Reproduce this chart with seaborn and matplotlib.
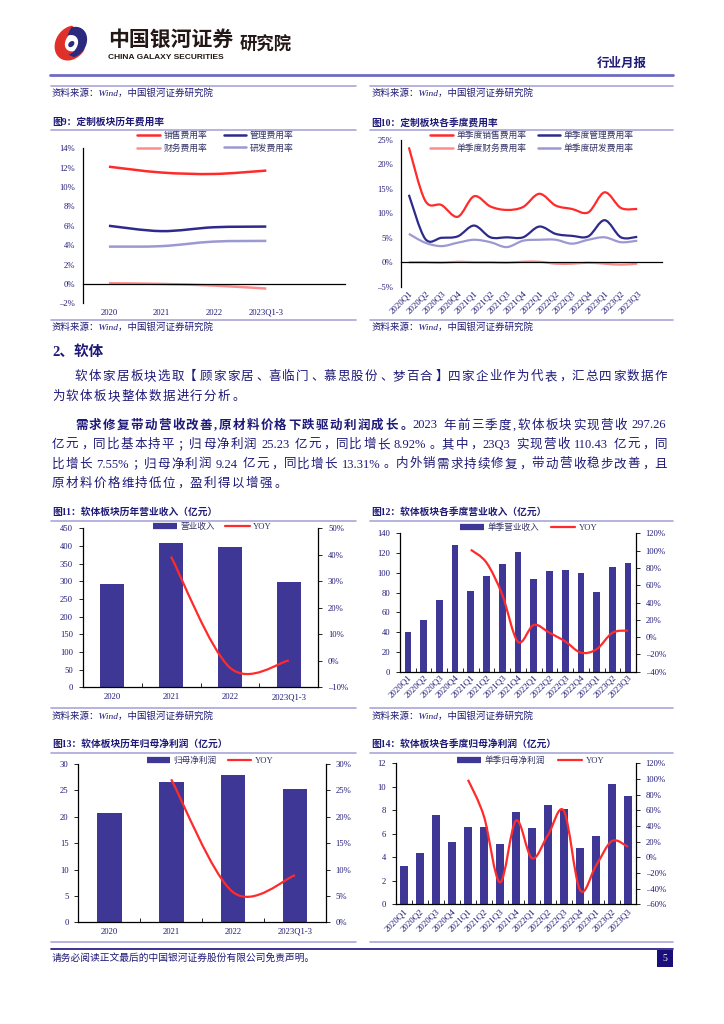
import re
import numpy as np
import matplotlib
matplotlib.use('Agg')
import matplotlib.pyplot as plt
import seaborn as sns
from matplotlib.path import Path
from matplotlib.patches import PathPatch, Rectangle, Polygon
from matplotlib.lines import Line2D
from matplotlib.ticker import FuncFormatter, MultipleLocator

sns.set_theme(style='white')
plt.rcParams['font.family'] = ['Liberation Serif', 'Noto Sans CJK SC']
plt.rcParams['axes.unicode_minus'] = False

NAVY = '#1F1A78'
BAR = '#3F3796'
RED = '#FF2B2B'
MGMT = '#2E2A8C'
PINK = '#FF8C8C'
LAV = '#9C98D2'
LIGHT = '#A9A6DA'
nan = np.nan

years = ['2020', '2021', '2022', '2023Q1-3']
quarters = ['2020Q1', '2020Q2', '2020Q3', '2020Q4', '2021Q1', '2021Q2', '2021Q3', '2021Q4',
            '2022Q1', '2022Q2', '2022Q3', '2022Q4', '2023Q1', '2023Q2', '2023Q3']

# 图9 定制板块历年费用率 (%)
sale_rate_y = [12.1, 11.5, 11.35, 11.7]
mgmt_rate_y = [6.0, 5.45, 5.85, 5.92]
fin_rate_y = [0.07, 0.0, -0.17, -0.48]
rd_rate_y = [3.85, 3.9, 4.37, 4.44]

# 图10 定制板块各季度费用率 (%)
q_sale_rate = [23.5, 12.6, 11.7, 9.3, 13.5, 11.4, 10.7, 11.3, 14.0, 11.6, 10.9, 10.2, 14.3, 11.1, 10.9]
q_mgmt_rate = [13.8, 4.8, 5.0, 5.3, 7.5, 5.1, 5.1, 5.1, 7.3, 5.8, 5.4, 5.3, 8.6, 5.1, 5.2]
q_fin_rate = [0.0, 0.0, -0.1, 0.1, 0.0, 0.0, -0.1, 0.1, 0.1, -0.3, -0.3, -0.1, -0.3, -0.5, -0.3]
q_rd_rate = [5.8, 4.0, 3.3, 4.0, 4.6, 4.1, 3.1, 4.4, 4.6, 4.6, 3.8, 4.6, 5.1, 4.1, 4.4]

# 图11 软体板块历年营业收入 (亿元, %)
rev_year = [292.5, 407.5, 397.0, 297.26]
rev_year_yoy = [nan, 39.3, -2.6, 0.1]

# 图12 软体板块各季度营业收入
q_rev = [40.5, 52.0, 73.0, 128.0, 82.0, 96.5, 108.6, 121.0, 93.5, 101.5, 102.6, 99.5, 80.6, 106.0, 110.43]
q_rev_yoy = [nan, nan, nan, nan, 101.0, 86.0, 49.0, -5.5, 14.0, 5.0, -5.0, -18.0, -14.0, 5.0, 7.55]

# 图13 软体板块历年归母净利润
np_year = [20.8, 26.5, 28.0, 25.23]
np_year_yoy = [nan, 27.1, 5.7, 8.92]

# 图14 软体板块各季度归母净利润
q_np = [3.26, 4.34, 7.57, 5.33, 6.6, 6.6, 5.13, 7.86, 6.47, 8.45, 8.11, 4.79, 5.8, 10.2, 9.24]
q_np_yoy = [nan, nan, nan, nan, 99.0, 52.0, -32.0, 47.0, -1.3, 28.5, 59.0, -41.7, -10.6, 20.8, 13.31]

W, H = 724, 1024
fig = plt.figure(figsize=(W / 100, H / 100), dpi=100)
fig.patch.set_facecolor('white')


def fx(x):
    return x / W


def fy(y):
    return 1 - y / H


def add_ax(l, t, r, b):
    return fig.add_axes([fx(l), fy(b), (r - l) / W, (b - t) / H])


def hline(x0, x1, y, color, lw):
    fig.add_artist(Line2D([fx(x0), fx(x1)], [fy(y), fy(y)], transform=fig.transFigure, color=color, lw=lw))


def ftext(x, y, s, **kw):
    kw.setdefault('color', NAVY)
    kw.setdefault('va', 'center')
    return fig.text(fx(x), fy(y), s, **kw)


def pct(v, p):
    return ('–%d%%' % -v) if v < 0 else '%d%%' % v


def smooth(ax, xs, ys, color, lw):
    # excel style smoothed line through the points
    p = np.array([(x, y) for x, y in zip(xs, ys) if not np.isnan(y)], float)
    n = len(p)
    verts = [p[0]]
    codes = [Path.MOVETO]
    for i in range(n - 1):
        a, b, c, d = p[max(i - 1, 0)], p[i], p[i + 1], p[min(i + 2, n - 1)]
        verts += [b + (c - a) / 6, c - (d - b) / 6, c]
        codes += [Path.CURVE4] * 3
    ax.add_patch(PathPatch(Path(verts, codes), fill=False, edgecolor=color, lw=lw,
                           capstyle='butt', joinstyle='round'))


def style_y(ax, side='left', pad=3):
    for s in ['top', 'right', 'left', 'bottom']:
        ax.spines[s].set_visible(False)
    ax.spines[side].set_visible(True)
    ax.spines[side].set_color('black')
    ax.spines[side].set_linewidth(0.9)
    ax.tick_params(axis='y', labelsize=6.2, labelcolor=NAVY, length=3, width=0.6,
                   direction='out', pad=pad, color='black')
    ax.set_facecolor('none')


def legend_at(ax, handles, labels, x, y, colsp, fs=6.3, hl=2.6):
    leg = ax.legend(handles, labels, loc='upper left', bbox_to_anchor=(fx(x), fy(y)),
                    bbox_transform=fig.transFigure, ncol=2, frameon=False, borderpad=0,
                    borderaxespad=0, handlelength=hl, handletextpad=0.4,
                    columnspacing=colsp, labelspacing=0.45, fontsize=fs)
    for t in leg.get_texts():
        t.set_color('#333366')
    return leg


def line_rate_chart(ax, cats, series, ylim, step, rot):
    n = len(cats)
    x = np.arange(n)
    for vals, col, lw in series:
        smooth(ax, x, vals, col, lw)
    ax.set_xlim(-0.5, n - 0.5)
    ax.set_ylim(*ylim)
    ax.yaxis.set_major_locator(MultipleLocator(step))
    ax.yaxis.set_major_formatter(FuncFormatter(pct))
    style_y(ax, pad=2.5)
    ax.spines['bottom'].set_visible(True)
    ax.spines['bottom'].set_position(('data', 0))
    ax.spines['bottom'].set_color('black')
    ax.spines['bottom'].set_linewidth(0.9)
    ax.set_xticks(np.arange(-0.5, n, 1.0) + 1)
    ax.tick_params(axis='x', labelbottom=False, length=3, width=0.6, direction='in', color='black')
    sec = ax.secondary_xaxis(0.0)
    sec.spines['bottom'].set_visible(False)
    sec.set_xticks(x)
    if rot:
        sec.set_xticklabels(cats, rotation=45, ha='right', rotation_mode='anchor')
        sec.tick_params(length=0, pad=2, labelsize=6.5, labelcolor=NAVY)
    else:
        sec.set_xticklabels(cats)
        sec.tick_params(length=0, pad=4, labelsize=6.2, labelcolor=NAVY)


def bar_yoy_chart(ax, cats, bars, yoy, ylim, ystep, rlim, rstep, width, rot, pad):
    n = len(cats)
    sns.barplot(x=cats, y=bars, color=BAR, saturation=1, width=width, ax=ax, edgecolor='none')
    ax.set_xlim(-0.5, n - 0.5)
    ax.set_ylim(*ylim)
    ax.yaxis.set_major_locator(MultipleLocator(ystep))
    style_y(ax, pad=4)
    ax.spines['bottom'].set_visible(True)
    ax.spines['bottom'].set_color('black')
    ax.spines['bottom'].set_linewidth(0.9)
    ax.set_xticks(np.arange(-0.5, n, 1.0), minor=True)
    ax.tick_params(axis='x', which='minor', length=3, width=0.6, direction='in', color='black', bottom=True)
    ax.tick_params(axis='x', which='major', length=0, labelsize=6.5 if rot else 6.2,
                   labelcolor=NAVY, pad=pad)
    if rot:
        ax.set_xticks(np.arange(n))
        ax.set_xticklabels(cats, rotation=45, ha='right', rotation_mode='anchor')
    ax.set_xlabel('')
    ax.set_ylabel('')
    ax2 = ax.twinx()
    smooth(ax2, np.arange(n), yoy, RED, 1.6)
    ax2.set_ylim(*rlim)
    ax2.yaxis.set_major_locator(MultipleLocator(rstep))
    ax2.yaxis.set_major_formatter(FuncFormatter(pct))
    style_y(ax2, side='right', pad=4)
    ax2.grid(False)
    ax.grid(False)
    return ax2


# ---------------- header ----------------
lax = add_ax(53, 24, 89, 62)
lax.set_xlim(-1.2, 1.2)
lax.set_ylim(-1.05, 1.05)
lax.axis('off')
t = np.linspace(0, 2 * np.pi, 200)


def ell(a, b, cx, cy, rot, th):
    r = np.deg2rad(rot)
    xe, ye = a * np.cos(th), b * np.sin(th)
    return np.c_[cx + xe * np.cos(r) - ye * np.sin(r), cy + xe * np.sin(r) + ye * np.cos(r)]


# logo: red crescent left, navy crescent right
th_o = np.deg2rad(np.linspace(62, 300, 80))
th_i = np.deg2rad(np.linspace(300, 62, 80))
lax.add_patch(Polygon(np.r_[ell(1.15, 0.9, 0, 0, 30, th_o), ell(0.8, 0.52, 0.33, 0.14, 30, th_i)],
                      closed=True, fc='#E0302A', ec='none'))
th_o = np.deg2rad(np.linspace(-110, 72, 80))
th_i = np.deg2rad(np.linspace(72, -110, 80))
lax.add_patch(Polygon(np.r_[ell(1.0, 0.8, 0.12, 0.04, 30, th_o), ell(0.72, 0.5, -0.2, -0.12, 30, th_i)],
                      closed=True, fc='#2C2A7E', ec='none'))
lax.add_patch(Polygon(ell(0.22, 0.15, 0.02, -0.06, 30, t), closed=True, fc='#2C2A7E', ec='none'))

ftext(108, 39, '中国银河证券', fontsize=15, fontweight='bold', color='#231815',
      family=['Noto Sans CJK SC'])
ftext(108, 57.5, 'CHINA GALAXY SECURITIES', fontsize=6, fontweight='bold', color='#231815',
      family=['Liberation Sans'])
ftext(240, 45, '研究院', fontsize=12.5, fontweight='bold', color='#231815', family=['Noto Sans CJK SC'])
ftext(647, 63, '行业月报', fontsize=9, fontweight='bold', ha='right', family=['Noto Sans CJK SC'])
hline(50, 673, 75, '#6E6BC4', 2.0)

SRC = '资料来源：Wind，中国银河证券研究院'
for x0, x1 in [(51, 356), (370, 673)]:
    hline(x0, x1, 86, LIGHT, 1.2)
    ftext(x0 + 1, 93.5, SRC, fontsize=6.8, style='italic')

# ---------------- 图9 / 图10 ----------------
for x0, x1, title in [(51, 356, '图9：定制板块历年费用率'), (370, 673, '图10：定制板块各季度费用率')]:
    ftext(x0 + 1, 122.5, title, fontsize=7, fontweight='bold')
    hline(x0, x1, 129.5, LIGHT, 1.2)
    hline(x0, x1, 319.5, LIGHT, 1.2)
    ftext(x0 + 1, 327.5, SRC, fontsize=6.8, style='italic')

ax9 = add_ax(82.7, 148.3, 345, 303.3)
line_rate_chart(ax9, years, [(sale_rate_y, RED, 1.8), (mgmt_rate_y, MGMT, 1.8),
                             (fin_rate_y, PINK, 1.8), (rd_rate_y, LAV, 1.8)], (-2, 14), 2, False)
h9 = [Line2D([], [], color=c, lw=1.8) for c in [RED, PINK, MGMT, LAV]]
legend_at(ax9, h9, ['销售费用率', '财务费用率', '管理费用率', '研发费用率'], 137, 131, 1.9)

ax10 = add_ax(400.7, 140, 661.7, 286.7)
line_rate_chart(ax10, quarters, [(q_sale_rate, RED, 1.6), (q_mgmt_rate, MGMT, 1.6),
                                 (q_fin_rate, PINK, 1.6), (q_rd_rate, LAV, 1.6)], (-5, 25), 5, True)
legend_at(ax10, h9, ['单季度销售费用率', '单季度财务费用率', '单季度管理费用率', '单季度研发费用率'],
          430, 131, 1.3)

# ---------------- 正文 ----------------
FS = 9.0
EM = FS * 100 / 72
PUNCT_L = set('，。、；：】')
rend = fig.canvas.get_renderer()


def para_line(x0, y, parts, x1=None, gap=None):
    # lay out one justified line, CJK characters on an em grid
    items = []
    for s, wt in parts:
        for tk in re.findall(r'[A-Za-z0-9.,%\-]+| |[^A-Za-z0-9.,%\- ]', s):
            items.append((tk, wt))
    cells = []
    for tk, wt in items:
        if tk == ' ':
            cells.append((None, 0.28 * EM, None))
            continue
        cjk = not tk.isascii()
        tt = fig.text(0, fy(y), tk, fontsize=FS, fontweight=wt, color=NAVY, va='center',
                      ha='center' if cjk else 'left')
        w = EM if cjk else tt.get_window_extent(rend).width + 0.5
        cells.append((tt, w, cjk))
    natural = sum(c[1] for c in cells)
    nglyph = sum(1 for c in cells if c[0] is not None)
    if gap is None:
        gap = (x1 - x0 - natural) / (nglyph - 1)
    x = x0
    for tt, w, cjk in cells:
        if tt is None:
            x += w
            continue
        if cjk:
            ch = tt.get_text()
            if ch in PUNCT_L:
                tt.set_ha('left')
                tt.set_x(fx(x + 0.12 * EM))
            elif ch == '【':
                tt.set_ha('right')
                tt.set_x(fx(x + 0.9 * EM))
            else:
                tt.set_x(fx(x + w / 2))
        else:
            tt.set_x(fx(x))
        x += w + gap
    return gap


ftext(52, 352, '2、软体', fontsize=10.5, fontweight='bold')
g = para_line(75, 377, [('软体家居板块选取【顾家家居、喜临门、慕思股份、梦百合】四家企业作为代表，汇总四家数据作', 'normal')], x1=667)
para_line(52, 397, [('为软体板块整体数据进行分析。', 'normal')], gap=g)
para_line(75, 425.5, [('需求修复带动营收改善,原材料价格下跌驱动利润成长。', 'bold'),
                      ('2023 年前三季度,软体板块实现营收 297.26', 'normal')], x1=667)
para_line(52, 445, [('亿元，同比基本持平；归母净利润 25.23 亿元，同比增长 8.92%。其中，23Q3 实现营收 110.43 亿元，同', 'normal')], x1=667)
para_line(52, 464.5, [('比增长 7.55%；归母净利润 9.24 亿元，同比增长 13.31%。内外销需求持续修复，带动营收稳步改善，且', 'normal')], x1=667)
para_line(52, 484, [('原材料价格维持低位，盈利得以增强。', 'normal')], gap=g)

# ---------------- 图11 / 图12 ----------------
for x0, x1, title in [(51, 356, '图11：软体板块历年营业收入（亿元）'), (370, 673, '图12：软体板块各季度营业收入（亿元）')]:
    ftext(x0 + 1, 511.7, title, fontsize=7, fontweight='bold')
    hline(x0, x1, 520.7, LIGHT, 1.2)
    hline(x0, x1, 708.3, LIGHT, 1.2)
    ftext(x0 + 1, 716.5, SRC, fontsize=6.8, style='italic')

hb = Line2D([], [], color=BAR, lw=4.5, solid_capstyle='butt')
hl = Line2D([], [], color=RED, lw=1.6)

ax11 = add_ax(82.7, 528.3, 318.3, 687.3)
ax11r = bar_yoy_chart(ax11, years, rev_year, rev_year_yoy, (0, 450), 50, (-10, 50), 10, 0.4, False, 4.3)
legend_at(ax11r, [hb, hl], ['营业收入', 'YOY'], 153, 523, 1.2, fs=6.2, hl=2.8)

ax12 = add_ax(400, 533.3, 636, 671.7)
ax12r = bar_yoy_chart(ax12, quarters, q_rev, q_rev_yoy, (0, 140), 20, (-40, 120), 20, 0.42, True, 1.5)
legend_at(ax12r, [hb, hl], ['单季营业收入', 'YOY'], 460, 523, 1.4, fs=6.2, hl=2.8)

# ---------------- 图13 / 图14 ----------------
for x0, x1, title in [(51, 356, '图13：软体板块历年归母净利润（亿元）'), (370, 673, '图14：软体板块各季度归母净利润（亿元）')]:
    ftext(x0 + 1, 744, title, fontsize=7, fontweight='bold')
    hline(x0, x1, 752.7, LIGHT, 1.2)
    hline(x0, x1, 941.7, LIGHT, 1.2)

ax13 = add_ax(78.3, 764, 326, 922.3)
ax13r = bar_yoy_chart(ax13, years, np_year, np_year_yoy, (0, 30), 5, (0, 30), 5, 0.4, False, 4)
legend_at(ax13r, [hb, hl], ['归母净利润', 'YOY'], 147, 756, 1.3, fs=6.2, hl=2.7)

ax14 = add_ax(396, 763.3, 636, 904.3)
ax14r = bar_yoy_chart(ax14, quarters, q_np, q_np_yoy, (0, 12), 2, (-60, 120), 20, 0.44, True, 2)
legend_at(ax14r, [hb, hl], ['单季归母净利润', 'YOY'], 457, 756, 1.5, fs=6.2, hl=2.8)

# ---------------- footer ----------------
hline(51, 673, 949.3, '#1A1080', 1.2)
ftext(52, 958, '请务必阅读正文最后的中国银河证券股份有限公司免责声明。', fontsize=7)
fig.add_artist(Rectangle((fx(657), fy(967)), 16 / W, 17 / H, transform=fig.transFigure,
                         fc='#1A0F7A', ec='none'))
ftext(665, 958.5, '5', fontsize=7, color='white', ha='center')

fig.savefig('out.png', dpi=100, facecolor='white')
